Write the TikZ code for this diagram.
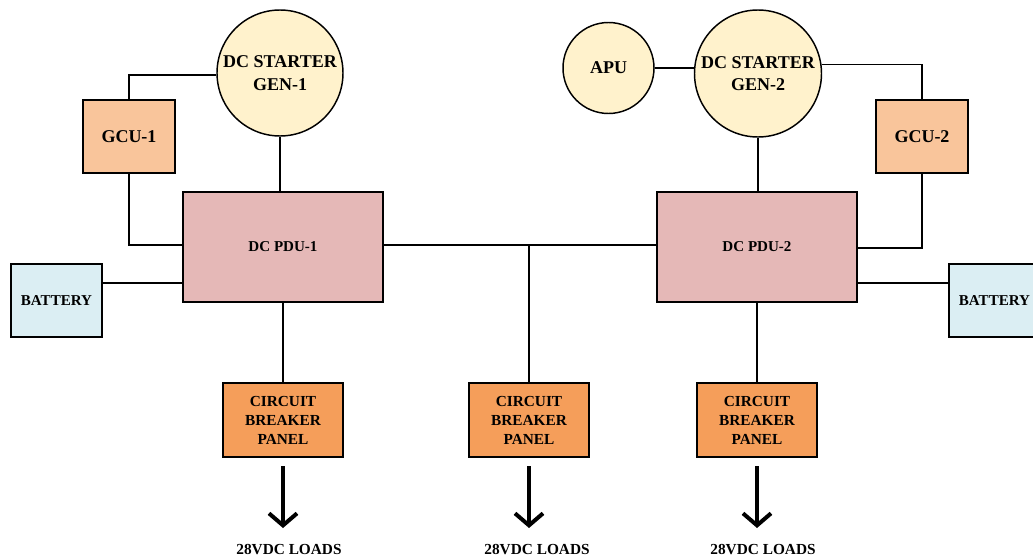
\documentclass[tikz,border=0pt]{standalone}
\usepackage{fontspec}
\setmainfont{Liberation Serif}
\usetikzlibrary{arrows.meta,calc}
\definecolor{genfill}{HTML}{FFF2CC}
\definecolor{gcufill}{HTML}{F9C59B}
\definecolor{pdufill}{HTML}{E5B8B7}
\definecolor{batfill}{HTML}{DBEEF3}
\definecolor{cbfill}{HTML}{F59E5A}
\begin{document}
\begin{tikzpicture}[x=0.75pt,y=-0.75pt,
  every node/.style={font=\bfseries, align=center, inner sep=0pt},
  gencircle/.style={circle, draw, line width=1.1pt, fill=genfill, minimum size=#1*0.75pt, font=\bfseries\fontsize{13.5}{17}\selectfont},
  blk/.style={draw, line width=1.5pt, rectangle},
  gcubox/.style={blk, fill=gcufill, minimum width=92*0.75pt, minimum height=73*0.75pt, font=\bfseries\fontsize{13.5}{17}\selectfont},
  pdubox/.style={blk, fill=pdufill, minimum width=200*0.75pt, minimum height=110*0.75pt, font=\bfseries\fontsize{11.3}{14}\selectfont},
  batbox/.style={blk, line width=1.1pt, fill=batfill, minimum width=91*0.75pt, minimum height=73*0.75pt, font=\bfseries\fontsize{11.3}{14}\selectfont},
  cbbox/.style={blk, fill=cbfill, minimum width=120*0.75pt, minimum height=74*0.75pt, font=\bfseries\fontsize{11.5}{14.2}\selectfont},
  wire/.style={line width=1.3pt},
  loadarrow/.style={line width=3pt, -{Straight Barb[length=9pt,width=21pt,line width=3pt]}},
  loadlabel/.style={font=\bfseries\fontsize{11.5}{14}\selectfont}
]
\useasboundingbox (0,0) rectangle (1033,560);

% nodes
\node[gencircle=126] (gen1) at (280,73) {DC STARTER\\GEN-1};
\node[gencircle=127] (gen2) at (758,73.5) {DC STARTER\\GEN-2};
\node[gencircle=91] (apu) at (608.5,68) {APU};
\node[gcubox] (gcu1) at (129,136.5) {GCU-1};
\node[gcubox] (gcu2) at (922,136.5) {GCU-2};
\node[pdubox] (pdu1) at (283,247) {DC PDU-1};
\node[pdubox] (pdu2) at (757,247) {DC PDU-2};
\node[batbox] (bat1) at (56.5,300.5) {BATTERY};
\node[batbox] (bat2) at (994.5,300.5) {BATTERY};
\node[cbbox] (cb1) at (283,420) {CIRCUIT\\BREAKER\\PANEL};
\node[cbbox] (cb2) at (529,420) {CIRCUIT\\BREAKER\\PANEL};
\node[cbbox] (cb3) at (757,420) {CIRCUIT\\BREAKER\\PANEL};
\node[loadlabel] (l1) at (289,550) {28VDC LOADS};
\node[loadlabel] (l2) at (537,550) {28VDC LOADS};
\node[loadlabel] (l3) at (763,550) {28VDC LOADS};

% wiring
\draw[wire] (gen1.182) -| (gcu1.north);
\draw[wire] (gcu1.south) |- ([yshift=1.5pt]pdu1.west);
\draw[wire] ([yshift=13pt]bat1.east) coordinate (b1) -- (b1 -| pdu1.west);
\draw[wire] (gen1.south) -- (gen1.south |- pdu1.north);
\draw[wire] ([yshift=1.5pt]pdu1.east) coordinate (bus1) -- (bus1 -| pdu2.west);
\draw[wire] (bus1 -| cb2.north) coordinate (j) -- (cb2.north);
\draw[wire] (pdu1.south) -- (cb1.north);

\draw[wire] (apu.east) -- (gen2.175);
\draw[wire] (gen2.8.15) -| (gcu2.north);
\draw[wire] (gcu2.south) |- ([yshift=-0.5pt]pdu2.east);
\draw[wire] ([yshift=13pt]bat2.west) coordinate (b2) -- (b2 -| pdu2.east);
\draw[wire] (gen2.south) -- (gen2.south |- pdu2.north);
\draw[wire] (pdu2.south) -- (cb3.north);

% load arrows
\coordinate (a1) at (cb1.south |- 0,528);
\coordinate (a2) at (cb2.south |- 0,528);
\coordinate (a3) at (cb3.south |- 0,528);
\draw[loadarrow] ([yshift=-6pt]cb1.south) -- (a1);
\draw[loadarrow] ([yshift=-6pt]cb2.south) -- (a2);
\draw[loadarrow] ([yshift=-6pt]cb3.south) -- (a3);
\end{tikzpicture}
\end{document}
